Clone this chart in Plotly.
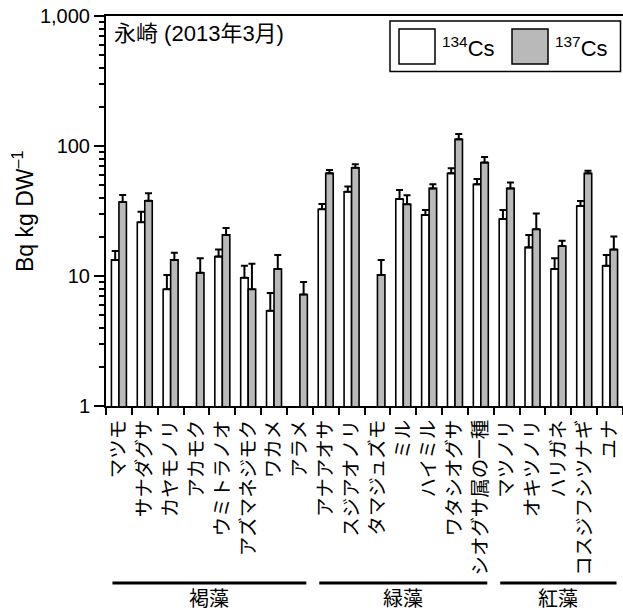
import plotly.graph_objects as go

# ---------------- data ----------------
species = ["マツモ", "サナダグサ", "カヤモノリ", "アカモク", "ウミトラノオ", "アズマネジモク",
           "ワカメ", "アラメ",
           "アナアオサ", "スジアオノリ", "タマジュズモ", "ミル", "ハイミル", "ワタシオグサ",
           "シオグサ属の一種",
           "マツノリ", "オキツノリ", "ハリガネ", "コスジフシツナギ", "ユナ"]
cs134 = [13.3, 25.9, 7.9, None, 14.1, 9.7, 5.4, None,
         32.6, 44.5, None, 39.1, 29.5, 61.6, 50.7,
         27.4, 16.6, 11.3, 34.5, 12.0]
cs134_err = [2.3, 5.3, 2.3, 0, 1.9, 2.3, 2.0, 0,
             3.2, 4.2, 0, 6.8, 2.7, 5.7, 5.0,
             4.8, 4.1, 2.4, 3.2, 2.5]
cs137 = [37.1, 37.9, 13.3, 10.6, 20.7, 7.9, 11.3, 7.2,
         61.6, 68.1, 10.2, 35.6, 47.2, 112.5, 74.5,
         47.2, 22.9, 17.0, 61.6, 16.0]
cs137_err = [4.9, 5.4, 1.8, 3.1, 2.7, 4.5, 3.2, 1.8,
             3.7, 4.2, 3.1, 6.2, 3.5, 11.2, 7.8,
             5.1, 7.4, 1.7, 3.0, 4.1]
groups = ["褐藻", "緑藻", "紅藻"]
group_first = [0, 8, 15]
group_last = [7, 14, 19]
ytick_vals = [1, 10, 100, 1000]
ytick_text = ["1", "10", "100", "1,000"]
minor_vals = [m * d for d in (1, 10, 100) for m in range(2, 10)]
title_text = "永崎 (2013年3月)"
ytitle = "Bq kg DW<sup>–1</sup>"
legend_names = ["<sup>134</sup>Cs", "<sup>137</sup>Cs"]

# ---------------- style ----------------
W, H = 623, 612
ML, MR, MT, MB = 106, 0, 16, 206
PW, PH = W - ML - MR, H - MT - MB
GRAY = "#b9b9b9"
LATIN = "Liberation Sans, Arial, sans-serif"
CJK = "Noto Sans CJK JP, sans-serif"
MIXED = "Liberation Sans, Noto Sans CJK JP, sans-serif"


def px(x):
    return (x - ML) / PW


def py(y):
    return (H - MB - y) / PH


fig = go.Figure()
fig.add_trace(go.Bar(
    x=species, y=cs134, name="134Cs",
    marker=dict(color="white", line=dict(color="black", width=1.6)),
    error_y=dict(type="data", symmetric=False, array=cs134_err,
                 arrayminus=[0] * len(cs134_err), color="black", thickness=2, width=3.5),
))
fig.add_trace(go.Bar(
    x=species, y=cs137, name="137Cs",
    marker=dict(color=GRAY, line=dict(color="black", width=1.6)),
    error_y=dict(type="data", symmetric=False, array=cs137_err,
                 arrayminus=[0] * len(cs137_err), color="black", thickness=2, width=3.5),
))

fig.update_layout(
    width=W, height=H,
    margin=dict(l=ML, r=MR, t=MT, b=MB, pad=0, autoexpand=False),
    paper_bgcolor="white", plot_bgcolor="white",
    barmode="group", bargap=0.42, bargroupgap=0,
    showlegend=False,
    font=dict(family=LATIN, color="black"),
)
fig.update_xaxes(
    type="category", tickangle=-90, tickson="boundaries",
    ticks="outside", ticklen=7, tickwidth=2, tickcolor="black",
    ticklabelstandoff=4,
    showline=True, linewidth=2, linecolor="black", mirror=True,
    showgrid=False, automargin=False,
    tickfont=dict(family=CJK, size=19.5, color="black"),
)
fig.update_yaxes(
    type="log", range=[0, 3],
    tickvals=ytick_vals, ticktext=ytick_text,
    ticks="outside", ticklen=10, tickwidth=2, tickcolor="black",
    minor=dict(tickvals=minor_vals, ticks="outside", ticklen=5, tickwidth=1.5,
               tickcolor="black", showgrid=False),
    showline=True, linewidth=2, linecolor="black", mirror=True,
    showgrid=False, zeroline=False, automargin=False,
    tickfont=dict(family=LATIN, size=20, color="black"),
)

shapes = []
annotations = []

# title inside plot
annotations.append(dict(text=title_text, xref="paper", yref="paper",
                        x=px(112), y=py(34), xanchor="left", yanchor="middle",
                        showarrow=False, font=dict(family=MIXED, size=22, color="black")))
# y-axis title
annotations.append(dict(text=ytitle, xref="paper", yref="paper",
                        x=px(23), y=py(212), xanchor="center", yanchor="middle",
                        textangle=-90, showarrow=False,
                        font=dict(family=LATIN, size=23, color="black")))

# legend (drawn manually)
shapes.append(dict(type="rect", xref="paper", yref="paper",
                   x0=px(390), x1=px(620.5), y0=py(21), y1=py(71.5),
                   line=dict(color="black", width=1.5), fillcolor="white", layer="above"))
for (x0, fill), name in zip([(399, "white"), (512, GRAY)], legend_names):
    shapes.append(dict(type="rect", xref="paper", yref="paper",
                       x0=px(x0), x1=px(x0 + 36), y0=py(29), y1=py(64),
                       line=dict(color="black", width=1.5), fillcolor=fill, layer="above"))
    annotations.append(dict(text=name, xref="paper", yref="paper",
                            x=px(x0 + 41), y=py(47), xanchor="left", yanchor="middle",
                            showarrow=False, font=dict(family=LATIN, size=22, color="black")))

# group brackets and labels
inset = 0.25
for g, a, b in zip(groups, group_first, group_last):
    x0 = a - 0.5 + inset
    x1 = b + 0.5 - inset
    shapes.append(dict(type="line", xref="x", yref="paper",
                       x0=x0, x1=x1, y0=py(583), y1=py(583),
                       line=dict(color="black", width=3)))
    annotations.append(dict(text=g, xref="x", yref="paper",
                            x=(x0 + x1) / 2, y=py(597), xanchor="center", yanchor="middle",
                            showarrow=False, font=dict(family=CJK, size=20, color="black")))

fig.update_layout(shapes=shapes, annotations=annotations)
fig.write_html(
    "out.html",
    config={"displayModeBar": False},
    post_script="document.body.style.margin='0px';document.body.style.overflow='hidden';",
)
